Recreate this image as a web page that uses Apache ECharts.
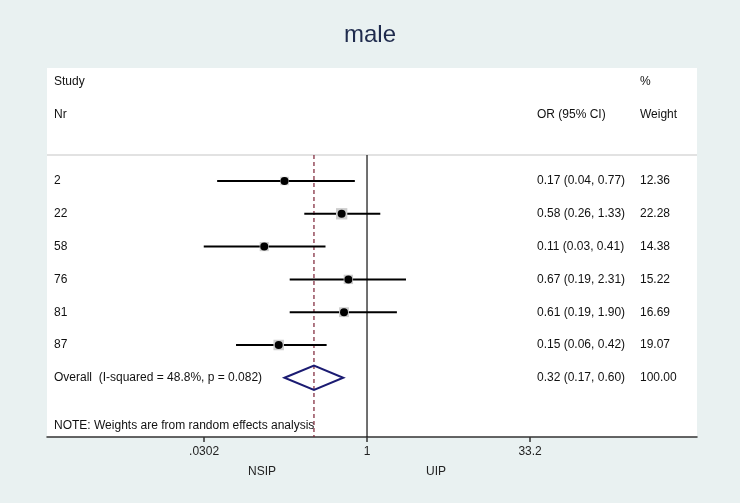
<!DOCTYPE html>
<html>
<head>
<meta charset="utf-8">
<script src="https://cdn.jsdelivr.net/npm/echarts@6/dist/echarts.min.js"></script>
<style>
html,body{margin:0;padding:0;background:#e9f1f1;}
#chart{width:740px;height:503px;}
</style>
</head>
<body>
<div id="chart"></div>
<script>
// ---- data ----
const studies = ['2', '22', '58', '76', '81', '87'];
const orValues = [0.17, 0.58, 0.11, 0.67, 0.61, 0.15];
const ciLow = [0.04, 0.26, 0.03, 0.19, 0.19, 0.06];
const ciHigh = [0.77, 1.33, 0.41, 2.31, 1.90, 0.42];
const weights = [12.36, 22.28, 14.38, 15.22, 16.69, 19.07];
const overallLabel = 'Overall  (I-squared = 48.8%, p = 0.082)';
const overallOR = 0.32, overallLow = 0.17, overallHigh = 0.60, overallWeight = 100.00;
const tickValues = [0.0302, 1, 33.2];
const tickLabels = ['.0302', '1', '33.2'];
const noteText = 'NOTE: Weights are from random effects analysis';

// ---- layout constants ----
const FONT = '"Liberation Sans", Arial, sans-serif';
const TXT = '#111111';
const X_MIN = -2.985, X_MAX = 3.078;   // log10 extent of axis
const Y_MIN = -3.445, Y_MAX = 7.805;   // row-index extent
const TOP_LINE = -0.79;                // row index of the top rule
const COL_STUDY = 7, COL_OR = 490, COL_W = 593; // px within 650-wide panel

const lg = v => Math.log10(v);
const fmt2 = v => v.toFixed(2);

const nRows = studies.length;
const ciData = studies.map((s, i) => [lg(ciLow[i]), lg(ciHigh[i]), i]);
const pointData = studies.map((s, i) => [lg(orValues[i]), i]);
const boxData = studies.map((s, i) => ({ value: [lg(orValues[i]), i], symbolSize: 2.4 * Math.sqrt(weights[i]) }));

const textData = [];
textData.push({ value: [COL_STUDY, -3.02], label: { formatter: 'Study' } });
textData.push({ value: [COL_STUDY, -2.01], label: { formatter: 'Nr' } });
textData.push({ value: [COL_W, -3.02], label: { formatter: '%' } });
textData.push({ value: [COL_OR, -2.01], label: { formatter: 'OR (95% CI)' } });
textData.push({ value: [COL_W, -2.01], label: { formatter: 'Weight' } });
studies.forEach((s, i) => {
  textData.push({ value: [COL_STUDY, i], label: { formatter: s } });
  textData.push({ value: [COL_OR, i], label: { formatter: fmt2(orValues[i]) + ' (' + fmt2(ciLow[i]) + ', ' + fmt2(ciHigh[i]) + ')' } });
  textData.push({ value: [COL_W, i], label: { formatter: fmt2(weights[i]) } });
});
textData.push({ value: [COL_STUDY, nRows], label: { formatter: overallLabel } });
textData.push({ value: [COL_OR, nRows], label: { formatter: fmt2(overallOR) + ' (' + fmt2(overallLow) + ', ' + fmt2(overallHigh) + ')' } });
textData.push({ value: [COL_W, nRows], label: { formatter: fmt2(overallWeight) } });
textData.push({ value: [COL_STUDY, 7.47], label: { formatter: noteText } });

const chart = echarts.init(document.getElementById('chart'), null, { renderer: 'canvas' });
const option = {
  backgroundColor: '#e9f1f1',
  animation: false,
  title: {
    text: 'male', left: 'center', top: 18,
    textStyle: { fontFamily: FONT, fontSize: 24, fontWeight: 'normal', color: '#1f2b4d' }
  },
  grid: {
    left: 47, right: 43, top: 68, bottom: 66,
    show: true, backgroundColor: '#ffffff', borderWidth: 0
  },
  xAxis: [{
    type: 'value', min: X_MIN, max: X_MAX,
    axisLine: { show: true, onZero: false, lineStyle: { color: '#333', width: 1.5 } },
    axisTick: { show: true, length: 5, lineStyle: { color: '#333', width: 1.5 }, customValues: tickValues.map(lg) },
    axisLabel: {
      show: true, margin: 9, color: '#222', fontFamily: FONT, fontSize: 12,
      customValues: tickValues.map(lg),
      formatter: v => {
        let best = 0;
        tickValues.forEach((t, k) => { if (Math.abs(lg(t) - v) < Math.abs(lg(tickValues[best]) - v)) best = k; });
        return tickLabels[best];
      }
    },
    splitLine: { show: false }
  }, {
    type: 'value', min: 0, max: 650, show: false
  }],
  yAxis: {
    type: 'value', min: Y_MIN, max: Y_MAX, inverse: true, show: false,
    splitLine: { show: false }
  },
  graphic: [
    { type: 'text', left: 248, top: 466, style: { text: 'NSIP', font: '12px ' + FONT, fill: '#222' } },
    { type: 'text', left: 426, top: 466, style: { text: 'UIP', font: '12px ' + FONT, fill: '#222' } }
  ],
  series: [
    { // top rule
      type: 'line', xAxisIndex: 0, data: [[X_MIN, TOP_LINE], [X_MAX, TOP_LINE]],
      symbol: 'none', lineStyle: { color: '#e2e2e2', width: 2 }, silent: true, z: 1
    },
    { // null line at 1
      type: 'line', xAxisIndex: 0, data: [[lg(1), TOP_LINE], [lg(1), Y_MAX]],
      symbol: 'none', lineStyle: { color: '#111', width: 1.2 }, silent: true, z: 2
    },
    { // overall dashed line
      type: 'line', xAxisIndex: 0, data: [[lg(overallOR), TOP_LINE], [lg(overallOR), Y_MAX]],
      symbol: 'none', lineStyle: { color: '#7a1f33', width: 1.2, type: [4, 3] }, silent: true, z: 2
    },
    { // CI lines
      type: 'custom', xAxisIndex: 0, data: ciData, z: 3,
      renderItem: (params, api) => {
        const a = api.coord([api.value(0), api.value(2)]);
        const b = api.coord([api.value(1), api.value(2)]);
        return { type: 'line', shape: { x1: a[0], y1: a[1], x2: b[0], y2: b[1] }, style: { stroke: '#000', lineWidth: 2 } };
      }
    },
    { // weight boxes
      type: 'scatter', xAxisIndex: 0, data: boxData, symbol: 'rect',
      itemStyle: { color: '#cdcdcd', opacity: 1 }, z: 4
    },
    { // point estimates
      type: 'scatter', xAxisIndex: 0, data: pointData, symbol: 'circle', symbolSize: 8,
      itemStyle: { color: '#000', opacity: 1 }, z: 5
    },
    { // overall diamond
      type: 'custom', xAxisIndex: 0, z: 5,
      data: [[lg(overallLow), lg(overallOR), lg(overallHigh), nRows]],
      renderItem: (params, api) => {
        const y = api.value(3);
        const h = 0.37;
        const p1 = api.coord([api.value(0), y]);
        const p2 = api.coord([api.value(1), y - h]);
        const p3 = api.coord([api.value(2), y]);
        const p4 = api.coord([api.value(1), y + h]);
        return { type: 'polygon', shape: { points: [p1, p2, p3, p4] }, style: { fill: 'rgba(255,255,255,0)', stroke: '#1b1b72', lineWidth: 2 } };
      }
    },
    { // table text
      type: 'scatter', xAxisIndex: 1, data: textData, symbolSize: 0, silent: true, z: 6,
      itemStyle: { opacity: 1 },
      label: {
        show: true, position: 'inside', align: 'left', verticalAlign: 'middle',
        color: TXT, fontFamily: FONT, fontSize: 12, opacity: 1
      }
    }
  ]
};
chart.setOption(option);
</script>
</body>
</html>
